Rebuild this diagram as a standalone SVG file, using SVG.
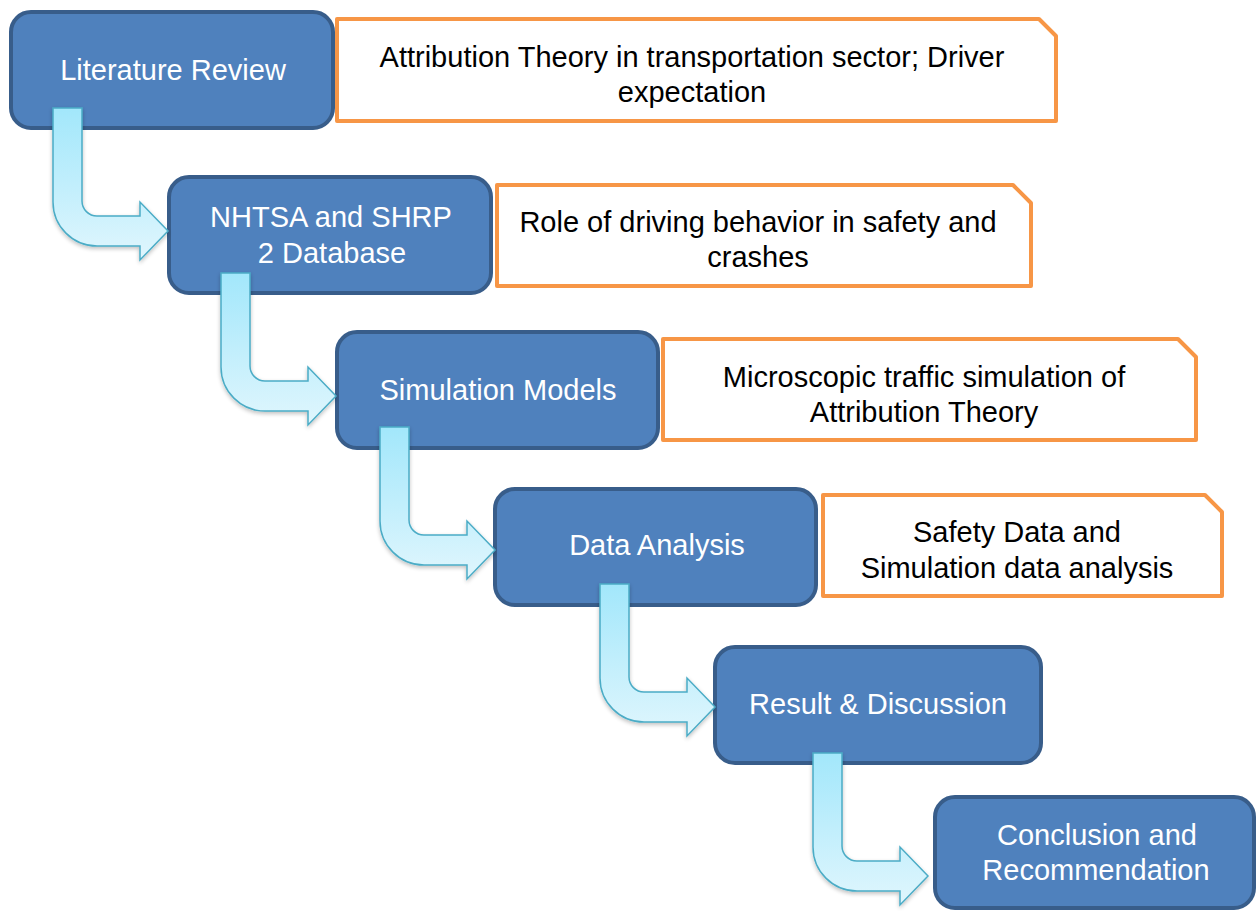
<svg xmlns="http://www.w3.org/2000/svg" width="1257" height="911" viewBox="0 0 1257 911">
  <style>
    .node rect { fill: #4F81BD; stroke: #385D8A; stroke-width: 4; }
    .node text { fill: #FFFFFF; font-family: "Liberation Sans", Arial, sans-serif; font-size: 29px; text-anchor: middle; }
    .note path { fill: #FFFFFF; stroke: #F79646; stroke-width: 4; stroke-linejoin: round; }
    .note text { fill: #000000; font-family: "Liberation Sans", Arial, sans-serif; font-size: 29px; text-anchor: middle; }
    .bent { fill: url(#bentFill); stroke: #4BACC6; stroke-width: 1.5; filter: url(#soft); }
  </style>
  <defs>
    <linearGradient id="bentFill" x1="0" y1="0" x2="0" y2="1">
      <stop offset="0" stop-color="#A2E7FB"/>
      <stop offset="1" stop-color="#E0F6FD"/>
    </linearGradient>
    <filter id="soft" x="-20%" y="-20%" width="140%" height="140%">
      <feGaussianBlur in="SourceAlpha" stdDeviation="2"/>
      <feOffset dx="0" dy="2" result="b"/>
      <feComponentTransfer><feFuncA type="linear" slope="0.25"/></feComponentTransfer>
      <feMerge><feMergeNode/><feMergeNode in="SourceGraphic"/></feMerge>
    </filter>
    <!-- bent arrow: vertical stem turning right into an arrowhead -->
    <path id="bentArrow" d="M0,0 H29 V93 A15,15 0 0 0 44,108 H87 V94 L115,123 L87,152 V138 H44 A44,44 0 0 1 0,94 Z"/>
  </defs>

  <!-- callout notes -->
  <g id="note1" class="note">
    <path d="M337,19 H1039 L1056,36 V121 H337 Z"/>
    <text x="692" y="67">Attribution Theory in transportation sector; Driver</text>
    <text x="692" y="102">expectation</text>
  </g>
  <g id="note2" class="note">
    <path d="M497,185 H1013 L1031,203 V286 H497 Z"/>
    <text x="758" y="232">Role of driving behavior in safety and</text>
    <text x="758" y="267">crashes</text>
  </g>
  <g id="note3" class="note">
    <path d="M663,339 H1178 L1196,357 V440 H663 Z"/>
    <text x="924" y="387">Microscopic traffic simulation of</text>
    <text x="924" y="422">Attribution Theory</text>
  </g>
  <g id="note4" class="note">
    <path d="M823,495 H1205 L1222,512 V596 H823 Z"/>
    <text x="1017" y="542">Safety Data and</text>
    <text x="1017" y="578">Simulation data analysis</text>
  </g>

  <!-- process steps -->
  <g id="step1" class="node">
    <rect x="11" y="12" width="322" height="116" rx="20"/>
    <text x="173" y="80">Literature Review</text>
  </g>
  <g id="step2" class="node">
    <rect x="169" y="177" width="322" height="116" rx="20"/>
    <text x="331" y="227">NHTSA and SHRP</text>
    <text x="332" y="263">2 Database</text>
  </g>
  <g id="step3" class="node">
    <rect x="337" y="332" width="321" height="116" rx="20"/>
    <text x="498" y="400">Simulation Models</text>
  </g>
  <g id="step4" class="node">
    <rect x="495" y="489" width="321" height="116" rx="20"/>
    <text x="657" y="555">Data Analysis</text>
  </g>
  <g id="step5" class="node">
    <rect x="715" y="647" width="326" height="116" rx="20"/>
    <text x="878" y="714">Result &amp; Discussion</text>
  </g>
  <g id="step6" class="node">
    <rect x="935" y="797" width="319" height="111" rx="20"/>
    <text x="1097" y="845">Conclusion and</text>
    <text x="1096" y="880">Recommendation</text>
  </g>

  <!-- connectors -->
  <g id="connectors">
    <use href="#bentArrow" class="bent" transform="translate(53,108)"/>
    <use href="#bentArrow" class="bent" transform="translate(221,273)"/>
    <use href="#bentArrow" class="bent" transform="translate(380,427)"/>
    <use href="#bentArrow" class="bent" transform="translate(600,584)"/>
    <use href="#bentArrow" class="bent" transform="translate(813,753)"/>
  </g>
</svg>
